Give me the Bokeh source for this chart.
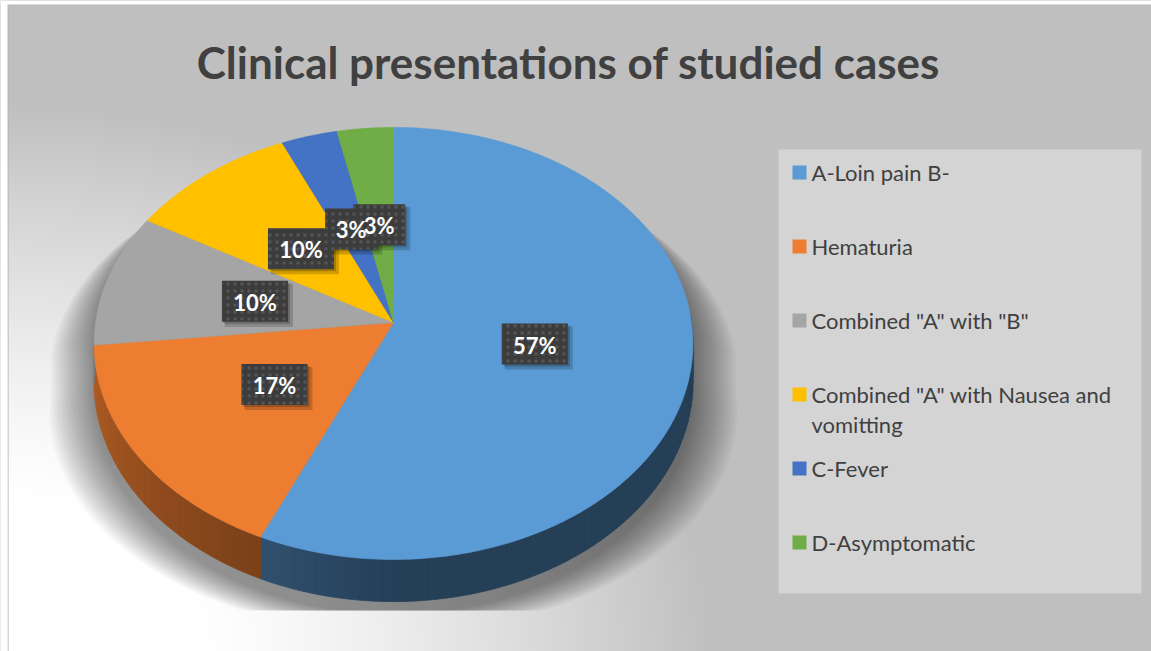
import textwrap
import numpy as np
from bokeh.plotting import figure
from bokeh.models import Range1d
from bokeh.core.properties import value
from bokeh.embed import file_html
from bokeh.resources import INLINE

# ---------------- data ----------------
title_text = "Clinical presentations of studied cases"
categories = [
    "A-Loin pain B-",
    "Hematuria",
    'Combined "A" with "B"',
    'Combined "A" with Nausea and vomitting',
    "C-Fever",
    "D-Asymptomatic",
]
counts = [17, 5, 3, 3, 1, 1]
colors = ["#5B9BD5", "#ED7D31", "#A5A5A5", "#FFC000", "#4472C4", "#70AD47"]

# ---------------- canvas ----------------
W, H = 1151, 651
OX, OY = 0, 0
FONT = "Lato"
TXT = "#404040"

p = figure(width=W, height=H, x_range=Range1d(0, W), y_range=Range1d(H, 0),
           output_backend="svg", toolbar_location=None, min_border=0,
           x_axis_type=None, y_axis_type=None)
p.grid.visible = False
p.outline_line_color = None
p.background_fill_color = "#bfbfbf"
p.border_fill_color = "#bfbfbf"

# background gradient (light towards the bottom-left corner)
gh, gw = H // 2 + 1, W // 2 + 1
yy, xx = np.mgrid[0:gh, 0:gw]
X = xx * 2 + 1 + OX
Y = yy * 2 + 1 + OY
d = np.sqrt((X / 1.3) ** 2 + (Y - 651.0) ** 2)
t = np.clip((d - 150) / 400.0, 0, 1) ** 1.3
g = (255 - 64 * t).astype(np.uint32)
img = (255 << 24) | (g << 16) | (g << 8) | g
p.image_rgba(image=[img.astype(np.uint32)], x=0, y=0, dw=gw * 2, dh=gh * 2)

# chart border
p.line(x=[7.5, 7.5], y=[4, H], line_color="#b0b0b0", line_width=1)
p.line(x=[7.5, W], y=[4.5, 4.5], line_color="#b8b8b8", line_width=1)
p.rect(x=[W / 2], y=[2], width=W, height=4, fill_color="white", line_color=None)
p.rect(x=[3.5], y=[H / 2], width=7, height=H, fill_color="white", line_color=None)

# ---------------- pie geometry ----------------
CX, CY = 393 - OX, 322 - OY
RA, RB, PERS, DEPTH = 298.0, 214.0, 0.097, 38.0


def proj(theta, r=1.0, z=0.0):
    th = np.radians(theta)
    u = r * np.sin(th)
    v = -r * np.cos(th)
    k = 1.0 / (1.0 - PERS * v)
    return CX + RA * u * k, CY + RB * v * k + DEPTH * k * z


total = float(sum(counts))
angles = np.concatenate([[0.0], np.cumsum(counts) / total * 360.0])

# shadow: silhouette of the pie, blurred by stacking translucent layers
ths = np.linspace(0, 360, 361)
sx, sy = proj(ths)
bx, by = proj(ths, z=1.0)
front = (ths > 90) & (ths < 270)
silx = np.where(front, bx, sx)
sily = np.where(front, by, sy)
for i in range(18):
    e = 1 + 2.2 * i
    lx = CX + (silx - CX) * (1 + e / 260.0)
    ly = sily + 12 + e * 0.5
    ly = np.minimum(ly, 610 - OY)
    p.patch(list(lx), list(ly), fill_color="black", fill_alpha=0.026, line_color=None)


def shade(theta):
    if theta <= 180:
        return 0.41
    if theta <= 204:
        return 0.41 + (theta - 180) / 24.0 * 0.11
    return 0.52 + (theta - 204) / 66.0 * 0.25


def darker(hexc, f):
    r, gg, b = int(hexc[1:3], 16), int(hexc[3:5], 16), int(hexc[5:7], 16)
    return "#%02x%02x%02x" % (int(r * f), int(gg * f), int(b * f))


# side walls (visible front part)
side_xs, side_ys, side_c = [], [], []
for i, c in enumerate(colors):
    a0, a1 = max(angles[i], 88.0), min(angles[i + 1], 272.0)
    if a1 <= a0:
        continue
    n = max(2, int((a1 - a0) / 2) + 1)
    edges = np.linspace(a0, a1, n)
    for j in range(n - 1):
        seg = np.linspace(edges[j], edges[j + 1], 3)
        tx, ty = proj(seg)
        bx_, by_ = proj(seg[::-1], z=1.0)
        side_xs.append(list(tx) + list(bx_))
        side_ys.append(list(ty) + list(by_))
        side_c.append(darker(c, shade((edges[j] + edges[j + 1]) / 2)))
p.patches(side_xs, side_ys, fill_color=side_c, line_color=side_c, line_width=0.8)

# top faces
top_xs, top_ys = [], []
for i in range(len(counts)):
    seg = np.linspace(angles[i], angles[i + 1], max(3, int(angles[i + 1] - angles[i]) + 2))
    tx, ty = proj(seg)
    top_xs.append([CX] + list(tx))
    top_ys.append([CY] + list(ty))
p.patches(top_xs, top_ys, fill_color=colors, line_color=colors, line_width=0.6)

# ---------------- data labels ----------------
pct = [f"{round(c / total * 100)}%" for c in counts]
mids = (angles[:-1] + angles[1:]) / 2
lx, ly = proj(mids, r=0.48)
bw = [24 + 14 * len(s) for s in pct]
p.rect(x=list(lx + 4), y=list(ly + 4), width=[w + 2 for w in bw], height=43,
       fill_color="black", fill_alpha=0.18, line_color=None)
p.rect(x=list(lx + 2), y=list(ly + 2), width=bw, height=41,
       fill_color="black", fill_alpha=0.2, line_color=None)
p.rect(x=list(lx), y=list(ly), width=bw, height=41, fill_color="#3c3c3c",
       line_color=None, hatch_pattern="dot", hatch_color="#555555", hatch_scale=7,
       hatch_weight=1.5)
p.text(x=list(lx), y=list(ly + 1), text=pct, text_align="center", text_baseline="middle",
       text_color="white", text_font=value(FONT), text_font_style="bold",
       text_font_size="22px")

# ---------------- title ----------------
p.text(x=[568 - OX], y=[61 - OY], text=[title_text], text_align="center",
       text_baseline="middle", text_color=TXT, text_font=value(FONT),
       text_font_style="bold", text_font_size="44px")

# ---------------- legend ----------------
p.rect(x=[(778 + 1141) / 2 - OX], y=[(149 + 593) / 2 - OY], width=363, height=444,
       fill_color="#d4d4d4", line_color=None)
ly0 = [172 - OY + 74 * i for i in range(len(categories))]
p.rect(x=[799 - OX] * len(categories), y=ly0, width=14, height=14,
       fill_color=colors, line_color=None)
tx_, ty_, tt_ = [], [], []
for i, lab in enumerate(categories):
    for k, line in enumerate(textwrap.wrap(lab, 28)):
        tx_.append(811 - OX)
        ty_.append(ly0[i] + 30 * k)
        tt_.append(line)
p.text(x=tx_, y=ty_, text=tt_, text_align="left", text_baseline="middle",
       text_color=TXT, text_font=value(FONT), text_font_size="22px")

open("out.html", "w").write(file_html(p, INLINE))
